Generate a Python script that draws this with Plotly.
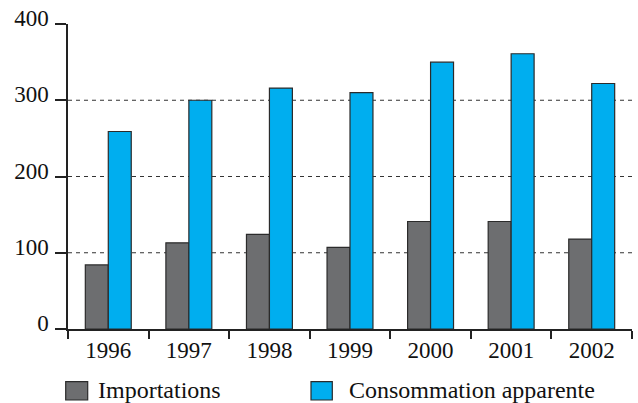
import plotly.graph_objects as go

# Annual figures, 1996-2002
years = ["1996", "1997", "1998", "1999", "2000", "2001", "2002"]
importations = [84, 113, 124, 107, 141, 141, 118]
consommation = [259, 300, 316, 310, 350, 361, 322]
y_ticks = [0, 100, 200, 300, 400]
grid_values = [100, 200, 300]
series_names = ["Importations", "Consommation apparente"]

GREY = "#6d6e70"
BLUE = "#00aeef"
EDGE = "#2b2b2b"
FONT = "'Liberation Serif', 'DejaVu Serif', serif"

fig = go.Figure()
fig.add_trace(go.Bar(x=years, y=importations, name=series_names[0],
                     marker=dict(color=GREY, line=dict(color=EDGE, width=1.2))))
fig.add_trace(go.Bar(x=years, y=consommation, name=series_names[1],
                     marker=dict(color=BLUE, line=dict(color=EDGE, width=1.2))))

# dotted horizontal guides behind the bars
for v in grid_values:
    fig.add_shape(type="line", xref="paper", yref="y", x0=0, x1=1, y0=v, y1=v,
                  line=dict(color="#333333", width=1.2, dash="4px,4px"), layer="below")

# legend drawn as squares + labels below the axis
W, H = 564.0, 305.0  # plot area in px
def px_x(p):
    return (p - 68) / W
def px_y(p):
    return (329 - p) / H

legend_items = [(65.7, 87.7, 96, GREY, series_names[0]),
                (311, 332.3, 346.5, BLUE, series_names[1])]
for x0, x1, tx, col, label in legend_items:
    fig.add_shape(type="rect", xref="paper", yref="paper",
                  x0=px_x(x0), x1=px_x(x1), y0=px_y(400), y1=px_y(381.7),
                  fillcolor=col, line=dict(color=EDGE, width=1.2))
    fig.add_annotation(xref="paper", yref="paper", x=px_x(tx), y=px_y(390),
                       text=label, showarrow=False, xanchor="left", yanchor="middle",
                       font=dict(family=FONT, size=24, color="#111111"))

fig.update_layout(
    width=638, height=403,
    margin=dict(l=68, r=6, t=24, b=74),
    paper_bgcolor="white", plot_bgcolor="white",
    barmode="group", bargap=0.43, bargroupgap=0,
    showlegend=False,
    font=dict(family=FONT, size=23, color="#111111"),
)
fig.update_xaxes(
    type="category", showgrid=False, showline=True, linecolor="#222222", linewidth=1.5,
    ticks="outside", tickson="boundaries", ticklen=8, tickcolor="#222222", tickwidth=1.5,
    tickfont=dict(family=FONT, size=23, color="#111111"),
)
fig.update_yaxes(
    range=[0, 400], tickvals=y_ticks, showgrid=False, zeroline=False,
    showline=True, linecolor="#222222", linewidth=1.5,
    ticks="outside", ticklen=11, tickcolor="#222222", tickwidth=1.5,
    tickfont=dict(family=FONT, size=23, color="#111111"),
    ticklabelshift=-6, ticklabelstandoff=2,
)

fig.write_html("out.html")
